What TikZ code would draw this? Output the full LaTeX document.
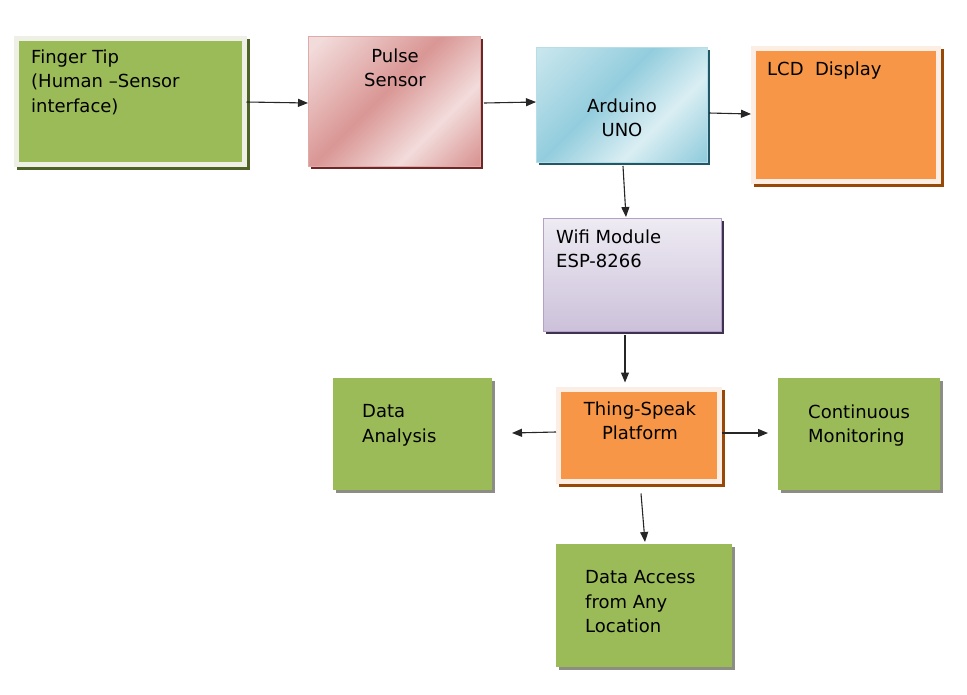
\documentclass[tikz,border=0pt]{standalone}
\usepackage{fontspec}
\setmainfont{DejaVu Sans}
\usetikzlibrary{shadows,arrows.meta,calc}
\definecolor{grn}{HTML}{9BBB59}
\definecolor{grnshadow}{HTML}{4F6228}
\definecolor{grayshadow}{HTML}{8C8E84}
\definecolor{orng}{HTML}{F79646}
\definecolor{orngshadow}{HTML}{984807}
\definecolor{creamg}{HTML}{EEF0E6}
\definecolor{creamo}{HTML}{FCEEE4}
\definecolor{pL}{HTML}{F2DCDB}
\definecolor{pD}{HTML}{D99694}
\definecolor{pshadow}{HTML}{6E2626}
\definecolor{pborder}{HTML}{E0AAA9}
\definecolor{aL}{HTML}{DAEEF3}
\definecolor{aD}{HTML}{93CDDD}
\definecolor{ashadow}{HTML}{215867}
\definecolor{aborder}{HTML}{B6DDE8}
\definecolor{wT}{HTML}{EEEBF3}
\definecolor{wB}{HTML}{CCC1DA}
\definecolor{wshadow}{HTML}{3F3151}
\definecolor{wborder}{HTML}{B2A2C7}
\pgfdeclarehorizontalshading{pulseshade}{100bp}{color(0bp)=(pL); color(18bp)=(pL); color(46bp)=(pD); color(66bp)=(pL); color(84bp)=(pD); color(100bp)=(pD)}
\pgfdeclarehorizontalshading{ardshade}{100bp}{color(0bp)=(aL); color(18bp)=(aL!70!aD); color(44bp)=(aD); color(64bp)=(aL); color(84bp)=(aD); color(100bp)=(aD)}
\begin{document}
\begin{tikzpicture}[x=1pt,y=-1pt,
  every node/.style={font=\fontsize{18}{24.5}\selectfont, text=black},
  boxbase/.style={rectangle, inner sep=0pt, outer sep=0pt},
  plainbox/.style n args={4}{boxbase, minimum width=#1, minimum height=#2, fill=#3,
      general shadow={shadow xshift=3pt, shadow yshift=-3pt, fill=#4}},
  rimbox/.style n args={5}{boxbase, minimum width=#1, minimum height=#2, fill=#3, draw=#4, line width=5pt,
      general shadow={shadow xshift=3pt, shadow yshift=-3pt, fill=#5, draw=#5, line width=5pt}},
  lbl/.style={inner sep=0pt, anchor=north west, align=left},
  clbl/.style={inner sep=0pt, anchor=north, align=center},
  conn/.style={draw=black!85, line width=1.1pt, -{Triangle[length=10pt,width=8pt]}}
]
\useasboundingbox (0,0) rectangle (967,694);

% boxes
\node[rimbox={228pt}{126pt}{grn}{creamg}{grnshadow}] (fin) at (130.5,101.5) {};
\node[boxbase, minimum width=172pt, minimum height=130pt, shading=pulseshade, shading angle=-45,
      draw=pborder, line width=1pt,
      general shadow={shadow xshift=3pt, shadow yshift=-3pt, fill=pshadow}] (pulse) at (394,101) {};
\node[boxbase, minimum width=171pt, minimum height=115pt, shading=ardshade, shading angle=-45,
      draw=aborder, line width=1pt,
      general shadow={shadow xshift=3pt, shadow yshift=-3pt, fill=ashadow}] (ard) at (621.5,104.5) {};
\node[rimbox={185pt}{133pt}{orng}{creamo}{orngshadow}] (lcd) at (846,115) {};
\node[boxbase, minimum width=178pt, minimum height=113pt, top color=wT, bottom color=wB,
      draw=wborder, line width=1pt,
      general shadow={shadow xshift=3pt, shadow yshift=-3pt, fill=wshadow}] (wifi) at (632,274.5) {};
\node[rimbox={161pt}{92pt}{orng}{creamo}{orngshadow}] (thing) at (639,435.5) {};
\node[plainbox={159pt}{112pt}{grn}{grayshadow}] (da) at (412.5,434) {};
\node[plainbox={162pt}{112pt}{grn}{grayshadow}] (cm) at (859,434) {};
\node[plainbox={176pt}{123pt}{grn}{grayshadow}] (acc) at (644,605.5) {};

% texts
\node[lbl] (tfin) at (31,49.5) {Finger Tip\\(Human –Sensor\\interface)};
\node[clbl] (tpulse) at (395,48.5) {Pulse\\Sensor};
\node[clbl] (tard) at (622,98.5) {Arduino\\UNO};
\node[lbl] (tlcd) at (767,61.5) {LCD\ \ Display};
\node[lbl] (twifi) at (556,229.5) {Wifi Module\\ESP-8266};
\node[clbl] (tthing) at (640,401.5) {Thing-Speak\\Platform};
\node[lbl] (tda) at (362,404.5) {Data\\Analysis};
\node[lbl] (tcm) at (808,404.5) {Continuous\\Monitoring};
\node[lbl] (tacc) at (585,570.5) {Data Access\\from Any\\Location};

% connectors
\draw[conn] ($(fin.east)+(2,0.5)$) -- ($(pulse.west)+(0,2)$);
\draw[conn] ($(pulse.east)+(4,2)$) -- ($(ard.west)+(0,-2.5)$);
\draw[conn] ($(ard.east)+(2,8.5)$) -- ($(lcd.west)+(-2.5,-1)$);
\draw[conn] ($(ard.south)+(1.5,4)$) -- ($(wifi.north)+(-6,-1)$);
\draw[conn] ($(wifi.south)+(-7,4)$) -- ($(thing.north)+(-14,-7)$);
\draw[conn] ($(thing.west)+(-2.5,-3.5)$) -- ($(da.east)+(20,-1)$);
\draw[conn] ($(thing.east)+(2,-2.5)$) -- ($(cm.west)+(-10,-1)$);
\draw[conn] ($(thing.south)+(2,12)$) -- ($(acc.north)+(1,-2)$);
\end{tikzpicture}
\end{document}
